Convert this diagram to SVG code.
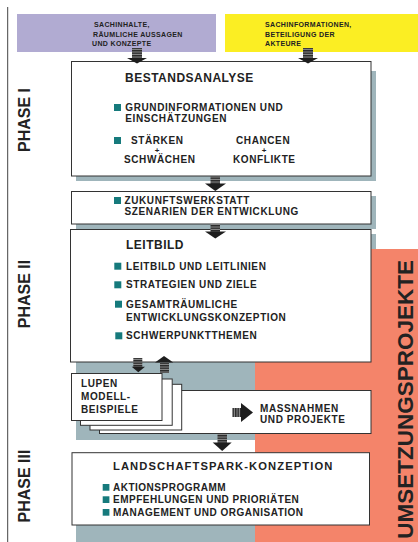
<svg xmlns="http://www.w3.org/2000/svg" width="418" height="542" viewBox="0 0 418 542">
<style>
.t{font-family:"Liberation Sans",Arial,Helvetica,sans-serif;font-weight:bold;fill:#222}
.s7{font-size:7px;letter-spacing:0.35px}
.b10{font-size:10px;letter-spacing:0.6px}
.h12{font-size:12px;letter-spacing:0.5px}
.h11{font-size:11.2px;letter-spacing:1.1px}
.pl{font-size:8px}
.ph{font-size:16px}
.um{font-size:22.5px}
.box{fill:#fff;stroke:#333;stroke-width:1}
.sh{fill:#9fb5bb}
.bul{fill:#167a7c}
.head{fill:#1e1e1e}
</style>
<defs>
<pattern id="hs" patternUnits="userSpaceOnUse" width="4" height="2.5">
<rect width="4" height="2.5" fill="#2a2a2a"/>
<rect y="1.5" width="4" height="0.9" fill="#9a9a9a"/>
</pattern>
<pattern id="vs" patternUnits="userSpaceOnUse" width="2.5" height="4">
<rect width="2.5" height="4" fill="#2a2a2a"/>
<rect x="1.5" width="0.9" height="4" fill="#9a9a9a"/>
</pattern>
</defs>

<rect width="418" height="542" fill="#fff"/>
<line x1="7.7" y1="7" x2="7.7" y2="542" stroke="#444" stroke-width="1"/>

<g id="backgrounds">
<rect class="sh" x="76" y="71" width="300" height="110"/>
<rect class="sh" x="76" y="196" width="300" height="33"/>
<rect class="sh" x="76" y="234" width="300" height="128"/>
<rect class="sh" x="76" y="362" width="179" height="78"/>
<rect class="sh" x="76" y="525" width="179" height="17"/>
<path d="M371 249H418V542H255V362H371Z" fill="#f4846a"/>
</g>

<g id="phase-labels">
<text class="t ph" transform="translate(29.5,120) rotate(-90)" text-anchor="middle">PHASE I</text>
<text class="t ph" transform="translate(29.5,294) rotate(-90)" text-anchor="middle">PHASE II</text>
<text class="t ph" transform="translate(29.5,486) rotate(-90)" text-anchor="middle">PHASE III</text>
</g>

<g id="input-left">
<rect x="17" y="14" width="199" height="38" fill="#b1abd2"/>
<text class="t s7" x="94" y="27.3">SACHINHALTE,</text>
<text class="t s7" x="93" y="36.5">RÄUMLICHE AUSSAGEN</text>
<text class="t s7" x="92" y="45.7">UND KONZEPTE</text>
</g>

<g id="input-right">
<rect x="225" y="14" width="193" height="38" fill="#fbee23"/>
<text class="t s7" x="265" y="27.3">SACHINFORMATIONEN,</text>
<text class="t s7" x="265" y="36.5">BETEILIGUNG DER</text>
<text class="t s7" x="265" y="45.7">AKTEURE</text>
</g>

<g id="bestandsanalyse">
<rect class="box" x="71.5" y="61.5" width="299.5" height="114.5"/>
<text class="t h12" x="125" y="82">BESTANDSANALYSE</text>
<rect class="bul" x="114" y="104" width="7" height="7"/>
<text class="t b10" x="125.3" y="111">GRUNDINFORMATIONEN UND</text>
<text class="t b10" x="125.3" y="122">EINSCHÄTZUNGEN</text>
<rect class="bul" x="114" y="137" width="7" height="7"/>
<text class="t b10" x="131" y="144">STÄRKEN</text>
<text class="t pl" x="157" y="152.5" text-anchor="middle">+</text>
<text class="t b10" x="124" y="163">SCHWÄCHEN</text>
<text class="t b10" x="236" y="144">CHANCEN</text>
<text class="t pl" x="264" y="152.5" text-anchor="middle">+</text>
<text class="t b10" x="233" y="163">KONFLIKTE</text>
</g>

<g id="zukunftswerkstatt">
<rect class="box" x="71.5" y="191.5" width="299.5" height="32.5"/>
<rect class="bul" x="114" y="197" width="7" height="7"/>
<text class="t b10" x="124.5" y="204">ZUKUNFTSWERKSTATT</text>
<text class="t b10" x="124.5" y="215">SZENARIEN DER ENTWICKLUNG</text>
</g>

<g id="leitbild">
<rect class="box" x="70.5" y="229.5" width="300.5" height="132.5"/>
<text class="t h12" x="126" y="249">LEITBILD</text>
<rect class="bul" x="114.3" y="262.7" width="7" height="7"/>
<text class="t b10" x="126" y="269.7">LEITBILD UND LEITLINIEN</text>
<rect class="bul" x="114.3" y="281.3" width="7" height="7"/>
<text class="t b10" x="126" y="288.3">STRATEGIEN UND ZIELE</text>
<rect class="bul" x="115" y="300.7" width="7" height="7"/>
<text class="t b10" x="126" y="307.7">GESAMTRÄUMLICHE</text>
<text class="t b10" x="126" y="320.7">ENTWICKLUNGSKONZEPTION</text>
<rect class="bul" x="115.3" y="332.3" width="7" height="7"/>
<text class="t b10" x="126" y="339.3">SCHWERPUNKTTHEMEN</text>
</g>

<g id="massnahmen">
<rect class="box" x="99.5" y="390.5" width="271.5" height="43"/>
<text class="t b10" x="260" y="411.7">MASSNAHMEN</text>
<text class="t b10" x="260" y="422.7">UND PROJEKTE</text>
</g>

<g id="lupen">
<rect class="box" x="90" y="384.3" width="91.7" height="45.7"/>
<rect class="box" x="80.5" y="379" width="91.7" height="46.3"/>
<rect class="box" x="71.5" y="373.5" width="90.5" height="47"/>
<text class="t b10" x="81" y="386.7">LUPEN</text>
<text class="t b10" x="81" y="400">MODELL-</text>
<text class="t b10" x="81" y="412.7">BEISPIELE</text>
</g>

<g id="landschaftspark">
<rect class="box" x="72" y="452.7" width="297.5" height="72.3"/>
<text class="t h11" x="113" y="470">LANDSCHAFTSPARK-KONZEPTION</text>
<rect class="bul" x="102.7" y="484" width="6.7" height="6.7"/>
<text class="t b10" x="113" y="490.5" style="letter-spacing:0.5px">AKTIONSPROGRAMM</text>
<rect class="bul" x="102.7" y="496.3" width="6.7" height="6.7"/>
<text class="t b10" x="113" y="503" style="letter-spacing:0.5px">EMPFEHLUNGEN UND PRIORIÄTEN</text>
<rect class="bul" x="102.7" y="509" width="6.7" height="6.7"/>
<text class="t b10" x="113" y="516" style="letter-spacing:0.5px">MANAGEMENT UND ORGANISATION</text>
</g>

<g id="connectors">
<rect x="132" y="48" width="10" height="10.5" fill="url(#hs)"/>
<polygon class="head" points="127,58 147,58 137,63.5"/>
<rect x="303" y="48" width="10" height="10.5" fill="url(#hs)"/>
<polygon class="head" points="298,58 318,58 308,63.5"/>
<rect x="210.5" y="176" width="9.5" height="8" fill="url(#hs)"/>
<polygon class="head" points="205,183.5 226,183.5 215.3,191"/>
<rect x="210.5" y="224" width="9.5" height="8" fill="url(#hs)"/>
<polygon class="head" points="205,231.5 226,231.5 215.3,238.5"/>
<rect x="133.3" y="358" width="9" height="9" fill="url(#hs)"/>
<polygon class="head" points="131.7,366.7 145,366.7 138.3,372.3"/>
<polygon class="head" points="155,362.5 173.3,362.5 164,356"/>
<rect x="160" y="362.5" width="9" height="10.5" fill="url(#hs)"/>
<rect x="232.3" y="408" width="9" height="9" fill="url(#vs)"/>
<polygon class="head" points="241,403 241,422 253,412.5"/>
<rect x="217.5" y="434" width="9.5" height="9" fill="url(#hs)"/>
<polygon class="head" points="212.7,442.5 231.7,442.5 222.2,451"/>
</g>

<g id="umsetzungsprojekte">
<text class="t um" transform="translate(412.5,260) rotate(-90)" text-anchor="end">UMSETZUNGSPROJEKTE</text>
</g>
</svg>
